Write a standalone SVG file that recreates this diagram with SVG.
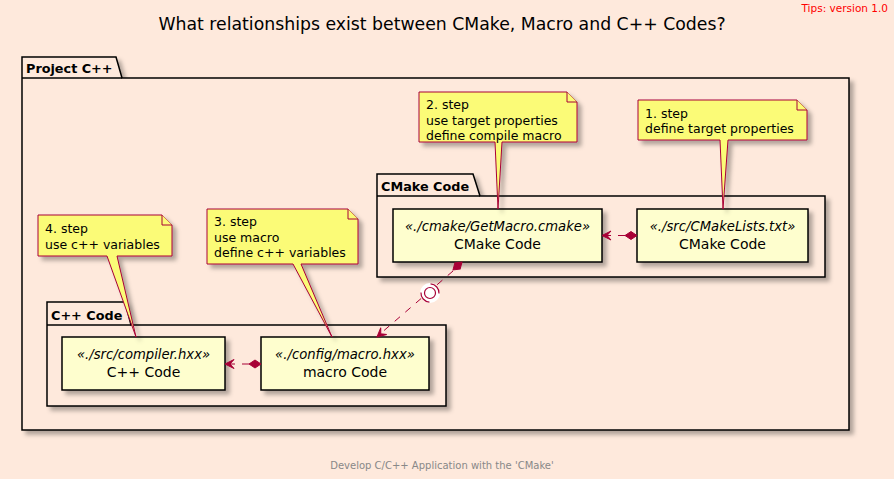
<svg xmlns="http://www.w3.org/2000/svg" width="894" height="479" viewBox="0 0 894 479">
<style>
text{font-family:"DejaVu Sans","Liberation Sans",sans-serif;fill:#000}
.pkg{fill:#FEE9DC;stroke:#000;stroke-width:1.5}
.pkgt{font-weight:bold;font-size:12.8px}
.node{fill:#FEFECE;stroke:#000;stroke-width:1.5}
.st{font-style:italic;font-size:13.2px}
.nm{font-size:14px}
.note{fill:#FBFB77;stroke:#A80036;stroke-width:1}
.nt{font-size:12.5px}
.edge{fill:none;stroke:#A80036;stroke-width:1;stroke-dasharray:7,7}
.head{fill:#A80036;stroke:#A80036;stroke-width:1}
</style>
<defs>
<filter id="sh" x="-10%" y="-10%" width="130%" height="140%">
<feDropShadow dx="4" dy="4" stdDeviation="2" flood-color="#000" flood-opacity="0.3"/>
</filter>
</defs>
<rect width="894" height="479" fill="#FEE9DC"/>
<text x="442" y="30" text-anchor="middle" style="font-size:17.3px">What relationships exist between CMake, Macro and C++ Codes?</text>
<text x="888" y="12" text-anchor="end" style="font-size:10.5px;fill:#FF0000">Tips: version 1.0</text>
<text x="442" y="469" text-anchor="middle" style="font-size:10px;fill:#888888">Develop C/C++ Application with the 'CMake'</text>

<g id="pkg-project">
<path class="pkg" filter="url(#sh)" d="M22,78 L22,57 L116,57 L122,78 L849,78 L849,430 L22,430 Z"/>
<line x1="22" y1="78" x2="122" y2="78" stroke="#000" stroke-width="1.5"/>
<text class="pkgt" x="26" y="73">Project C++</text>
</g>
<g id="pkg-cmake">
<path class="pkg" filter="url(#sh)" d="M377,196 L377,174 L473,174 L480,196 L825,196 L825,277 L377,277 Z"/>
<line x1="377" y1="196" x2="480" y2="196" stroke="#000" stroke-width="1.5"/>
<text class="pkgt" x="381" y="191">CMake Code</text>
</g>
<g id="pkg-cpp">
<path class="pkg" filter="url(#sh)" d="M47,325 L47,302 L125,302 L131,325 L446,325 L446,406 L47,406 Z"/>
<line x1="47" y1="325" x2="131" y2="325" stroke="#000" stroke-width="1.5"/>
<text class="pkgt" x="51" y="320">C++ Code</text>
</g>

<g id="getmacro">
<rect class="node" filter="url(#sh)" x="393" y="209" width="209" height="53"/>
<text class="st" x="497.5" y="231" text-anchor="middle">«./cmake/GetMacro.cmake»</text>
<text class="nm" x="497.5" y="249" text-anchor="middle">CMake Code</text>
</g>
<g id="cmakelists">
<rect class="node" filter="url(#sh)" x="637" y="209" width="171" height="53"/>
<text class="st" x="722.5" y="231" text-anchor="middle">«./src/CMakeLists.txt»</text>
<text class="nm" x="722.5" y="249" text-anchor="middle">CMake Code</text>
</g>
<g id="compiler">
<rect class="node" filter="url(#sh)" x="62" y="337" width="163" height="53"/>
<text class="st" x="143.5" y="359" text-anchor="middle">«./src/compiler.hxx»</text>
<text class="nm" x="143.5" y="377" text-anchor="middle">C++ Code</text>
</g>
<g id="macrohxx">
<rect class="node" filter="url(#sh)" x="261" y="337" width="168" height="53"/>
<text class="st" x="345" y="359" text-anchor="middle">«./config/macro.hxx»</text>
<text class="nm" x="345" y="377" text-anchor="middle">macro Code</text>
</g>

<g id="note1">
<path class="note" filter="url(#sh)" d="M638,100 L797,100 L807,110 L807,140 L728,140 L723,209 L720,140 L638,140 Z"/>
<path class="note" d="M797,100 L797,110 L807,110"/>
<text class="nt" x="645" y="118">1. step</text>
<text class="nt" x="645" y="133">define target properties</text>
</g>
<g id="note2">
<path class="note" filter="url(#sh)" d="M419,92 L567,92 L577,102 L577,142 L502,142 L498,209 L495,142 L419,142 Z"/>
<path class="note" d="M567,92 L567,102 L577,102"/>
<text class="nt" x="426" y="109">2. step</text>
<text class="nt" x="426" y="125">use target properties</text>
<text class="nt" x="426" y="140">define compile macro</text>
</g>
<g id="note3">
<path class="note" filter="url(#sh)" d="M207,209 L348,209 L358,219 L358,264 L301,264 L332,337 L293,264 L207,264 Z"/>
<path class="note" d="M348,209 L348,219 L358,219"/>
<text class="nt" x="214" y="226">3. step</text>
<text class="nt" x="214" y="242">use macro</text>
<text class="nt" x="214" y="257">define c++ variables</text>
</g>
<g id="note4">
<path class="note" filter="url(#sh)" d="M38,215 L162,215 L172,225 L172,256 L117,256 L136,337 L107,256 L38,256 Z"/>
<path class="note" d="M162,215 L162,225 L172,225"/>
<text class="nt" x="45" y="233">4. step</text>
<text class="nt" x="45" y="249">use c++ variables</text>
</g>

<g id="connectors">
<line class="edge" x1="625" y1="235.5" x2="604" y2="235.5"/>
<path class="head" d="M637,235.5 L631,231.5 L625,235.5 L631,239.5 Z"/>
<path class="head" d="M602,235.5 L611,231 L607,235.5 L611,240 Z"/>

<line class="edge" x1="249" y1="364" x2="227" y2="364"/>
<path class="head" d="M261,364 L255,360 L249,364 L255,368 Z"/>
<path class="head" d="M225,364 L234,359.5 L230,364 L234,368.5 Z"/>

<line class="edge" x1="453" y1="271" x2="380" y2="334"/>
<g transform="translate(462,262) rotate(138.6)">
<path class="head" d="M0,0 L6,-4 L12,0 L6,4 Z"/>
</g>
<g transform="translate(377,337) rotate(-41.4)">
<path class="head" d="M0,0 L9,-4.5 L5,0 L9,4.5 Z"/>
</g>
<circle cx="430" cy="293" r="10" fill="#FFFFFF"/>
<circle cx="430" cy="293" r="5.5" fill="#FFFFFF" stroke="#A80036" stroke-width="1.2"/>
<g transform="translate(430,293) rotate(-41.4)" fill="none" stroke="#A80036" stroke-width="1.2">
<path d="M-6.4,-6.4 A9,9 0 0 0 -6.4,6.4"/>
<path d="M6.4,-6.4 A9,9 0 0 1 6.4,6.4"/>
</g>
</g>
</svg>
